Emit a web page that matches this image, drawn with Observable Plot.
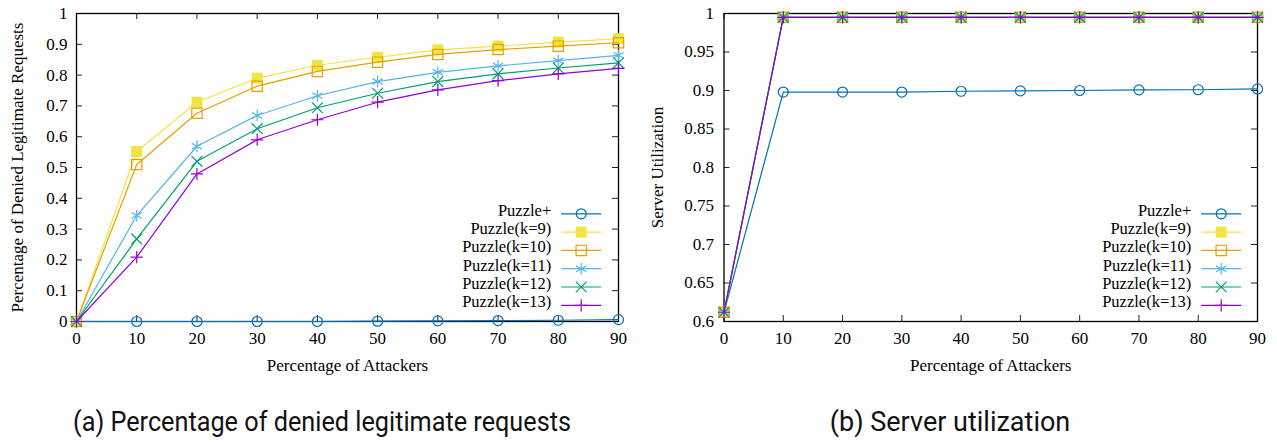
<!DOCTYPE html>
<html><head><meta charset="utf-8">
<script src="https://cdn.jsdelivr.net/npm/d3@7"></script>
<script src="https://cdn.jsdelivr.net/npm/@observablehq/plot@0.6"></script>
<style>
body{margin:0;background:#fff;}
#wrap{position:relative;width:1277px;height:442px;overflow:hidden;background:#fff;}
.panel{position:absolute;top:0;}
.cap{position:absolute;top:405px;font-family:Roboto,"Noto Sans",sans-serif;font-size:27px;color:#111;white-space:nowrap;transform:translateX(-50%) scaleX(0.935);transform-origin:center;line-height:34px;}
</style></head><body>
<div id="wrap">
  <div id="a" class="panel" style="left:0"></div>
  <div id="b" class="panel" style="left:640px"></div>
  <div class="cap" style="left:322px">(a) Percentage of denied legitimate requests</div>
  <div class="cap" style="left:950px;transform:translateX(-50%) scaleX(1.0)">(b) Server utilization</div>
</div>
<script>
// ---- data ----
const attackers = [0, 10, 20, 30, 40, 50, 60, 70, 80, 90];
const seriesNames = ["Puzzle+", "Puzzle(k=9)", "Puzzle(k=10)", "Puzzle(k=11)", "Puzzle(k=12)", "Puzzle(k=13)"];

// (a) Percentage of denied legitimate requests
const deniedPuzzlePlus = [0, 0, 0, 0, 0, 0.001, 0.002, 0.003, 0.004, 0.006];
const deniedK9  = [0, 0.552, 0.712, 0.790, 0.832, 0.858, 0.882, 0.894, 0.907, 0.918];
const deniedK10 = [0, 0.510, 0.676, 0.764, 0.812, 0.842, 0.867, 0.883, 0.894, 0.905];
const deniedK11 = [0, 0.344, 0.569, 0.669, 0.733, 0.779, 0.809, 0.830, 0.847, 0.864];
const deniedK12 = [0, 0.268, 0.520, 0.626, 0.694, 0.741, 0.779, 0.804, 0.823, 0.840];
const deniedK13 = [0, 0.209, 0.479, 0.590, 0.655, 0.712, 0.752, 0.782, 0.804, 0.822];

// (b) Server utilization
const utilPuzzlePlus = [0.612, 0.898, 0.898, 0.898, 0.899, 0.8995, 0.900, 0.9008, 0.901, 0.902];
const utilK9  = [0.612, 0.995, 0.995, 0.995, 0.995, 0.995, 0.995, 0.995, 0.995, 0.995];
const utilK10 = [0.612, 0.995, 0.995, 0.995, 0.995, 0.995, 0.995, 0.995, 0.995, 0.995];
const utilK11 = [0.612, 0.995, 0.995, 0.995, 0.995, 0.995, 0.995, 0.995, 0.995, 0.995];
const utilK12 = [0.612, 0.995, 0.995, 0.995, 0.995, 0.995, 0.995, 0.995, 0.995, 0.995];
const utilK13 = [0.612, 0.995, 0.995, 0.995, 0.995, 0.995, 0.995, 0.995, 0.995, 0.995];

// ticks
const xTicks = [0, 10, 20, 30, 40, 50, 60, 70, 80, 90];
const xTickLabels = ["0", "10", "20", "30", "40", "50", "60", "70", "80", "90"];
const deniedTicks = [0, 0.1, 0.2, 0.3, 0.4, 0.5, 0.6, 0.7, 0.8, 0.9, 1];
const deniedTickLabels = ["0", "0.1", "0.2", "0.3", "0.4", "0.5", "0.6", "0.7", "0.8", "0.9", "1"];
const utilTicks = [0.6, 0.65, 0.7, 0.75, 0.8, 0.85, 0.9, 0.95, 1];
const utilTickLabels = ["0.6", "0.65", "0.7", "0.75", "0.8", "0.85", "0.9", "0.95", "1"];

// ---- styles ----
const serif = "'Liberation Serif', 'DejaVu Serif', serif";
const colors = ["#0072b2", "#f0e442", "#e69f00", "#56b4e9", "#009e73", "#9400d3"];
const symbols = ["circle", "square", "square", "asterisk", "times", "plus"];
const radii = [5, 6.2, 5.8, 5.6, 5.0, 4.0];
const filled = [false, true, false, false, false, false];

const lineSymbol = {draw(ctx) { ctx.moveTo(-20, 0); ctx.lineTo(20, 0); }};

function chart({width, marginLeft, marginRight, yDomain, yTicks, yTickLabels, yLabel, series, tickPad, yLabelOffset, legendDx}) {
  const height = 380, marginTop = 13, marginBottom = 59;
  const pw = width - marginLeft - marginRight;
  const ph = height - marginTop - marginBottom;
  const marks = [
    Plot.tickX(xTicks, {x: d => d, insetTop: ph - 6, stroke: "#222", strokeWidth: 1}),
    Plot.tickX(xTicks, {x: d => d, insetBottom: ph - 6, stroke: "#222", strokeWidth: 1}),
    Plot.tickY(yTicks, {y: d => d, insetRight: pw - 6, stroke: "#222", strokeWidth: 1}),
    Plot.tickY(yTicks, {y: d => d, insetLeft: pw - 6, stroke: "#222", strokeWidth: 1}),
    Plot.frame({stroke: "#000", strokeWidth: 1.3}),
    Plot.axisX({ticks: xTicks, tickSize: 0, tickPadding: 10, tickFormat: d => xTickLabels[xTicks.indexOf(d)],
      label: "Percentage of Attackers", labelAnchor: "center", labelOffset: 49, labelArrow: false}),
    Plot.axisY({ticks: yTicks, tickSize: 0, tickPadding: tickPad, tickFormat: d => yTickLabels[yTicks.indexOf(d)],
      label: yLabel, labelAnchor: "center", labelOffset: yLabelOffset, labelArrow: false})
  ];
  series.forEach((vals, i) => {
    const table = attackers.map((x, j) => ({x, y: vals[j]}));
    marks.push(Plot.line(table, {x: "x", y: "y", stroke: colors[i], strokeWidth: 1.2}));
    marks.push(Plot.dot(table, {x: "x", y: "y", symbol: symbols[i], r: radii[i],
      fill: filled[i] ? colors[i] : "none", stroke: filled[i] ? "none" : colors[i], strokeWidth: 1.2}));
  });
  // legend
  seriesNames.forEach((name, i) => {
    const dy = -107.7 + 18.3 * i;
    marks.push(Plot.text([name], {frameAnchor: "bottom-right", dx: legendDx, dy: dy + 2, textAnchor: "end",
      fontFamily: serif, fontSize: 16.5, fontWeight: "normal", fill: "#000"}));
    marks.push(Plot.dot([name], {frameAnchor: "bottom-right", dx: legendDx + 30, dy, symbol: lineSymbol, stroke: colors[i], strokeWidth: 1.2}));
    marks.push(Plot.dot([name], {frameAnchor: "bottom-right", dx: legendDx + 30, dy, symbol: symbols[i], r: radii[i],
      fill: filled[i] ? colors[i] : "none", stroke: filled[i] ? "none" : colors[i], strokeWidth: 1.2}));
  });
  return Plot.plot({
    width, height, marginLeft, marginRight, marginTop, marginBottom,
    x: {domain: [0, 90]},
    y: {domain: yDomain},
    style: {fontFamily: serif, fontSize: "17px", color: "#000", background: "white", overflow: "visible"},
    marks
  });
}

document.getElementById("a").append(chart({
  width: 640, marginLeft: 76, marginRight: 22, yDomain: [0, 1],
  yTicks: deniedTicks, yTickLabels: deniedTickLabels,
  yLabel: "Percentage of Denied Legitimate Requests",
  series: [deniedPuzzlePlus, deniedK9, deniedK10, deniedK11, deniedK12, deniedK13],
  tickPad: 9, yLabelOffset: 66, legendDx: -67.3
}));
document.getElementById("b").append(chart({
  width: 637, marginLeft: 83.5, marginRight: 20, yDomain: [0.6, 1],
  yTicks: utilTicks, yTickLabels: utilTickLabels,
  yLabel: "Server Utilization",
  series: [utilPuzzlePlus, utilK9, utilK10, utilK11, utilK12, utilK13],
  tickPad: 10, yLabelOffset: 73, legendDx: -66.3
}));
</script>
</body></html>
